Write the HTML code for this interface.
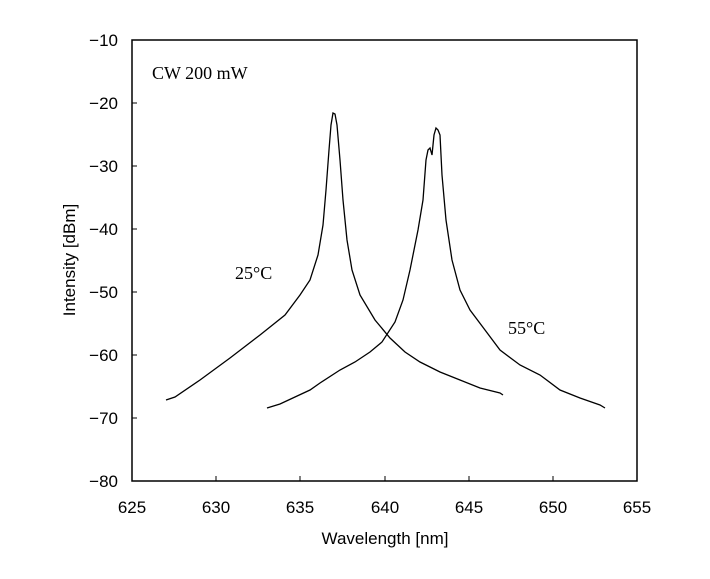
<!DOCTYPE html>
<html><head><style>body{margin:0;background:#fff}</style></head><body>
<svg width="710" height="574" xmlns="http://www.w3.org/2000/svg" font-family="Liberation Sans, sans-serif">
<rect x="132" y="40" width="505" height="441" fill="none" stroke="#000" stroke-width="1.5"/>
<g stroke="#000" stroke-width="1">
<line x1="132" y1="103" x2="137" y2="103"/><line x1="132" y1="166" x2="137" y2="166"/><line x1="132" y1="229" x2="137" y2="229"/><line x1="132" y1="292" x2="137" y2="292"/><line x1="132" y1="355" x2="137" y2="355"/><line x1="132" y1="418" x2="137" y2="418"/>
<line x1="216" y1="481" x2="216" y2="476"/><line x1="300" y1="481" x2="300" y2="476"/><line x1="385" y1="481" x2="385" y2="476"/><line x1="469" y1="481" x2="469" y2="476"/><line x1="553" y1="481" x2="553" y2="476"/>
</g>
<g font-size="17" text-anchor="end">
<text x="118" y="46">−10</text><text x="118" y="109">−20</text><text x="118" y="172">−30</text><text x="118" y="235">−40</text><text x="118" y="298">−50</text><text x="118" y="361">−60</text><text x="118" y="424">−70</text><text x="118" y="487">−80</text>
</g>
<g font-size="17" text-anchor="middle">
<text x="132" y="513">625</text><text x="216" y="513">630</text><text x="300" y="513">635</text><text x="385" y="513">640</text><text x="469" y="513">645</text><text x="553" y="513">650</text><text x="637" y="513">655</text>
<text x="385" y="544">Wavelength [nm]</text>
<text transform="translate(75,260) rotate(-90)">Intensity [dBm]</text>
</g>
<g font-family="Liberation Serif, serif" font-size="18">
<text x="152" y="79">CW 200 mW</text>
<text x="235" y="279">25°C</text>
<text x="508" y="334">55°C</text>
</g>
<g fill="none" stroke="#000" stroke-width="1.3">
<polyline points="166,400 175,397 200,380 230,358 260,335 285,315 300,295 310,280 318,255 323,225 326,190 329,150 331,125 333,113 335,114 337,125 340,160 343,200 347,240 352,270 360,295 375,320 390,338 405,352 420,362 440,372 460,380 480,388 500,393 503,395"/>
<polyline points="267,408 280,404 295,397 310,390 320,383 340,370 355,362 370,352 382,342 395,322 403,300 410,270 418,230 423,200 426,160 428,150 430,148 432,155 434,135 436,128 438,130 440,135 442,175 446,220 452,260 460,290 470,310 485,330 500,350 520,365 540,375 560,390 580,398 600,405 605,408"/>
</g>
</svg>
</body></html>
